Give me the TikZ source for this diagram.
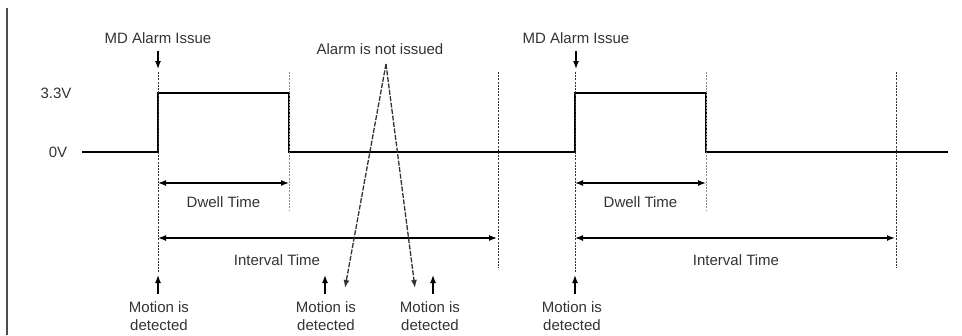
\documentclass[tikz,border=0pt]{standalone}
\usepackage{fontspec}
\setmainfont{Liberation Sans}
\usetikzlibrary{arrows.meta}
\begin{document}
\begin{tikzpicture}[x=1pt,y=-1pt,
  lbl/.style={font=\fontsize{15}{18}\selectfont, text=black!80, inner sep=0pt, align=center},
  sig/.style={line width=1.9pt, line join=miter},
  guide/.style={line width=1pt, black!80, dash pattern=on 2pt off 1.2pt},
  guidelight/.style={line width=0.8pt, black!45, dash pattern=on 2pt off 1.2pt},
  dim/.style={line width=1.4pt, {Latex[length=8pt,width=6pt]}-{Latex[length=8pt,width=6pt]}},
  ptr/.style={line width=1.4pt, -{Latex[length=8pt,width=6pt]}},
  slant/.style={line width=1.3pt, black!80, dash pattern=on 5pt off 1.5pt, -{Latex[length=8pt,width=6pt]}}
]
\useasboundingbox (0,0) rectangle (962,335);
% left frame bar
\coordinate (barT) at (7,8);
\coordinate (barB) at (7,335);
\draw[line width=2.8pt, black!70] (barT) -- (barB);

% signal key points
\coordinate (s0) at (82,152);
\coordinate (r1l) at (158,152);
\coordinate (r1h) at (158,93);
\coordinate (f1h) at (289,93);
\coordinate (f1l) at (289,152);
\coordinate (r2l) at (575,152);
\coordinate (r2h) at (575,93);
\coordinate (f2h) at (706,93);
\coordinate (f2l) at (706,152);
\coordinate (s9) at (948,152);
\draw[sig] (s0) -- (r1l) -- (r1h) -- (f1h) -- (f1l) -- (r2l) -- (r2h) -- (f2h) -- (f2l) -- (s9);

% level labels
\node[lbl] (v33) at (56,93) {3.3V};
\node[lbl] (v0) at (58,152) {0V};

% guide lines
\coordinate (g1t) at (158,72);  \coordinate (g1b) at (158,272);
\coordinate (g2t) at (289,72);  \coordinate (g2b) at (289,210);
\coordinate (g3t) at (498,72);  \coordinate (g3b) at (498,268);
\coordinate (g4t) at (575,72);  \coordinate (g4b) at (575,272);
\coordinate (g5t) at (706,72);  \coordinate (g5b) at (706,210);
\coordinate (g6t) at (896,72);  \coordinate (g6b) at (896,268);
\draw[guide] (g1t) -- (g1b);
\draw[guidelight] (g2t) -- (g2b);
\draw[guide] (g3t) -- (g3b);
\draw[guide] (g4t) -- (g4b);
\draw[guidelight] (g5t) -- (g5b);
\draw[guide] (g6t) -- (g6b);

% alarm issue labels and arrows
\node[lbl] (md1) at (158,38) {MD Alarm Issue};
\node[lbl] (md2) at (576,38) {MD Alarm Issue};
\coordinate (a1e) at (158,69);
\coordinate (a2e) at (576,69);
\draw[ptr] (md1.south |- 0,51) -- (a1e);
\draw[ptr] (md2.south |- 0,51) -- (a2e);

% dwell / interval dimensions
\coordinate (d1a) at (158,183); \coordinate (d1b) at (289,183);
\coordinate (i1a) at (158,238); \coordinate (i1b) at (497,238);
\coordinate (d2a) at (575,183); \coordinate (d2b) at (706,183);
\coordinate (i2a) at (575,238); \coordinate (i2b) at (895,238);
\draw[dim] (d1a) -- (d1b);
\draw[dim] (i1a) -- (i1b);
\draw[dim] (d2a) -- (d2b);
\draw[dim] (i2a) -- (i2b);
\node[lbl] (dw1) at (223.5,202) {Dwell Time};
\node[lbl] (iv1) at (277,260) {Interval Time};
\node[lbl] (dw2) at (640.5,202) {Dwell Time};
\node[lbl] (iv2) at (736,260) {Interval Time};

% alarm not issued
\node[lbl] (nai) at (380,49) {Alarm is not issued};
\coordinate (apex) at (386,64);
\coordinate (tipL) at (345,288);
\coordinate (tipR) at (415,288);
\draw[slant] (apex) -- (tipL);
\draw[slant] (apex) -- (tipR);

% motion detected labels and arrows
\node[lbl] (m1) at (159,316) {Motion is\\detected};
\node[lbl] (m2) at (326,316) {Motion is\\detected};
\node[lbl] (m3) at (430,316) {Motion is\\detected};
\node[lbl] (m4) at (572,316) {Motion is\\detected};
\coordinate (u1b) at (158,294); \coordinate (u1t) at (158,275);
\coordinate (u2b) at (325,294); \coordinate (u2t) at (325,275);
\coordinate (u3b) at (433,294); \coordinate (u3t) at (433,275);
\coordinate (u4b) at (575,294); \coordinate (u4t) at (575,275);
\draw[ptr] (u1b) -- (u1t);
\draw[ptr] (u2b) -- (u2t);
\draw[ptr] (u3b) -- (u3t);
\draw[ptr] (u4b) -- (u4t);
\end{tikzpicture}
\end{document}
